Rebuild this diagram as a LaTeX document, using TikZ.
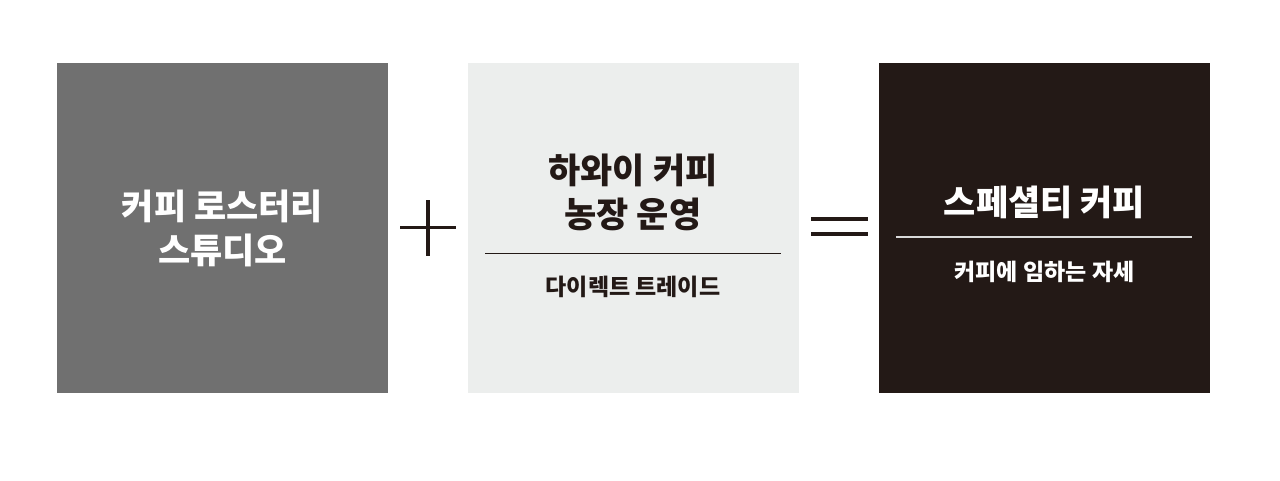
\documentclass[tikz,border=0pt]{standalone}
\usepackage{fontspec}
\newfontfamily\kr{Noto Sans CJK KR}[BoldFont={* Black}]
\definecolor{studio}{HTML}{707070}
\definecolor{farm}{HTML}{ECEEED}
\definecolor{coffee}{HTML}{231916}
\begin{document}
\begin{tikzpicture}
  [x=1pt,y=-1pt,
   box/.style={minimum width=331pt,minimum height=330pt,inner sep=0pt,draw=none},
   title/.style={font=\kr\bfseries\fontsize{35}{44}\selectfont,align=center},
   sub/.style={font=\kr\bfseries\fontsize{23}{28}\selectfont},
   sign/.style={line width=3.3pt,color=coffee}]
  \useasboundingbox[fill=white] (0,0) rectangle (1280,480);

  \node (b1) [box,fill=studio] at (222.5,228) {};
  \node (b2) [box,fill=farm]   at (633,228)   {};
  \node (b3) [box,fill=coffee] at (1044.5,228) {};

  \node (t1) [title,text=white] at (b1.center) {커피 로스터리\\스튜디오};
  \node (t2) [title,text=coffee] at (633,192) {하와이 커피\\농장 운영};
  \node (s2) [sub,text=coffee]   at (633,287) {다이렉트 트레이드};
  \node (t3) [title,text=white]  at (1044.5,202) {스페셜티 커피};
  \node (s3) [sub,text=white]    at (1044.5,272) {커피에 임하는 자세};

  \coordinate (r2a) at (485,253);  \coordinate (r2b) at (781,253);
  \coordinate (r3a) at (896,237);  \coordinate (r3b) at (1192,237);
  \draw[line width=1pt,coffee] (r2a) -- (r2b);
  \draw[line width=1.2pt,white!85!black] (r3a) -- (r3b);

  % plus and equals
  \coordinate (plus) at (428,227.5);
  \draw[sign] ([xshift=-28pt]plus) -- ([xshift=28pt]plus);
  \draw[sign] ([yshift=-28pt]plus) -- ([yshift=28pt]plus);
  \coordinate (eq) at (839.5,226.5);
  \foreach \dy in {-7.5,7.5}
    \draw[sign] ([xshift=-28.5pt,yshift=\dy pt]eq) -- ([xshift=28.5pt,yshift=\dy pt]eq);
\end{tikzpicture}
\end{document}
